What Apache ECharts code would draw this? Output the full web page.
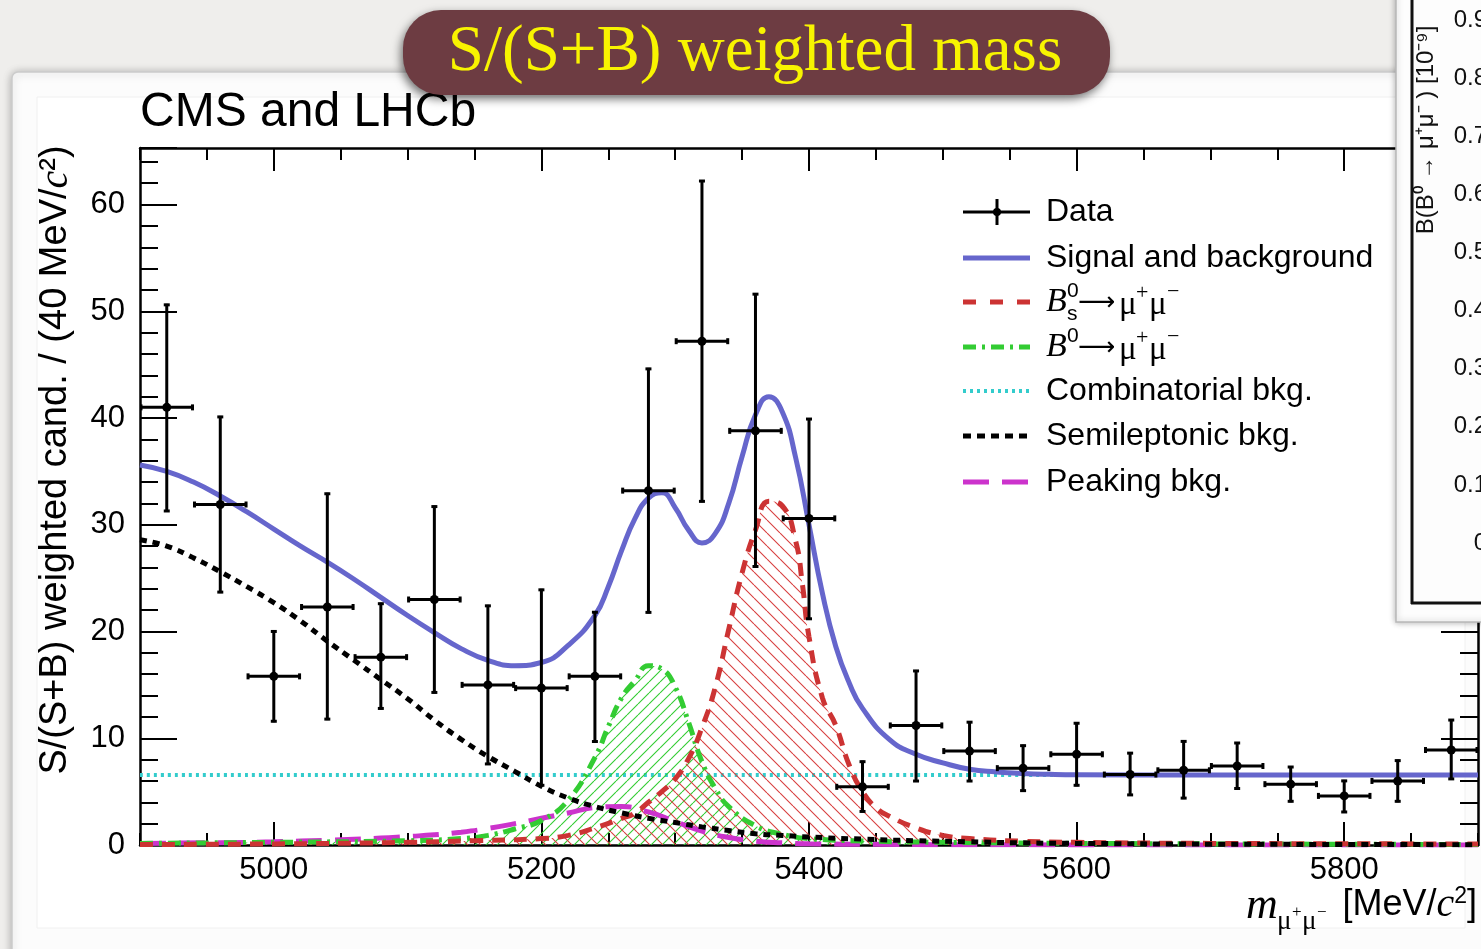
<!DOCTYPE html>
<html><head><meta charset="utf-8">
<script src="https://cdn.jsdelivr.net/npm/echarts@6.0.0/dist/echarts.min.js"></script>
<style>html,body{margin:0;padding:0;background:#efeeec;overflow:hidden}#c{width:1481px;height:949px}</style>
</head><body><div id="c"></div>
<script>
// ---------------- data ----------------
const binCenters = [4920,4960,5000,5040,5080,5120,5160,5200,5240,5280,5320,5360,5400,5440,5480,5520,5560,5600,5640,5680,5720,5760,5800,5840,5880];
const binWidth = 40;
const dataVal = [41.0,31.9,15.8,22.3,17.6,23.0,15.0,14.7,15.8,33.2,47.2,38.8,30.6,5.45,11.2,8.8,7.2,8.5,6.6,7.0,7.4,5.7,4.6,6.0,8.9];
const dataHi  = [50.7,40.2,20.1,33.0,22.7,31.8,22.5,24.0,21.9,44.7,62.3,51.7,40.0,7.9,16.4,11.6,9.4,11.5,8.7,9.8,9.65,7.4,6.1,8.0,11.8];
const dataLo  = [31.2,23.6,11.5,11.7,12.7,14.2,7.5,5.5,9.6,21.7,32.1,26.0,21.1,3.05,5.9,5.9,5.0,5.5,4.6,4.3,5.2,4.0,3.0,4.0,6.1];

const mSB = [4900,4920,4940,4960,4980,5000,5020,5040,5060,5080,5100,5120,5140,5160,5180,5200,5220,5240,5250,5260,5270,5280,5290,5300,5310,5320,5330,5340,5350,5360,5370,5380,5390,5400,5410,5420,5430,5440,5460,5480,5500,5520,5540,5560,5580,5600,5700,5800,5900];
const vSB = [35.6,35.0,34.0,32.7,31.2,29.6,28.0,26.5,24.9,23.2,21.5,19.9,18.4,17.3,16.8,17.1,18.7,21.5,24.2,27.6,30.6,32.5,33.0,31.6,29.5,28.3,29.2,32.0,36.4,40.3,42.0,40.6,36.3,30.0,23.6,18.6,15.2,12.8,9.9,8.5,7.7,7.1,6.85,6.7,6.62,6.58,6.55,6.55,6.55];

const mBs = [4900,5000,5100,5150,5200,5220,5240,5260,5270,5280,5290,5300,5310,5320,5330,5340,5350,5360,5370,5380,5390,5395,5400,5410,5420,5430,5440,5450,5460,5480,5500,5520,5560,5600,5700,5900];
const vBs = [0.05,0.1,0.25,0.4,0.6,0.9,1.6,2.5,3.0,4.0,5.0,6.2,8.1,11.0,14.8,20.2,25.5,29.5,32.2,31.8,28.5,24.5,19.5,13.8,11.2,7.5,5.0,3.5,2.7,1.6,0.9,0.6,0.35,0.25,0.15,0.1];

const mB0 = [4900,5000,5100,5140,5160,5180,5200,5220,5240,5250,5260,5270,5280,5290,5300,5310,5320,5330,5340,5360,5380,5400,5450,5500,5600,5900];
const vB0 = [0.15,0.25,0.4,0.6,0.9,1.5,2.3,4.2,8.2,11.1,13.8,15.4,16.8,16.5,14.8,11.5,7.8,5.3,3.6,1.8,1.0,0.6,0.35,0.25,0.15,0.05];

const mComb = [4900,5900];
const vComb = [6.55,6.55];

const mSemi = [4900,4920,4940,4960,4980,5000,5020,5040,5060,5080,5100,5120,5140,5160,5180,5200,5220,5240,5260,5280,5300,5320,5340,5360,5380,5400,5440,5480,5520,5560,5600,5700,5900];
const vSemi = [28.6,28.0,26.9,25.6,24.2,22.7,21.0,19.1,17.3,15.5,13.7,11.7,9.9,8.3,6.9,5.5,4.4,3.6,3.0,2.5,2.1,1.7,1.35,1.05,0.9,0.75,0.55,0.4,0.3,0.2,0.15,0.08,0.03];

const mPeak = [4900,4960,5000,5040,5080,5100,5120,5140,5160,5180,5200,5220,5240,5260,5280,5300,5320,5340,5360,5380,5400,5450,5500,5600,5900];
const vPeak = [0.15,0.22,0.3,0.45,0.65,0.8,0.95,1.2,1.55,2.0,2.5,3.0,3.5,3.6,3.1,2.2,1.3,0.7,0.35,0.2,0.12,0.06,0.03,0.01,0];

const xTickLabels = [5000,5200,5400,5600,5800];
const yTickLabels = [0,10,20,30,40,50,60];
const legendNames = ['Data','Signal and background','Bs','B0','Combinatorial bkg.','Semileptonic bkg.','Peaking bkg.'];
const panelLabels = [0.9,0.8,0.7,0.6,0.5,0.4,0.3,0.2,0.1,0];

// ---------------- helpers ----------------
const zip = (a,b) => a.map((x,i)=>[x,b[i]]);
function hatch(color, s, dir){
  const c = document.createElement('canvas'); c.width = s; c.height = s;
  const g = c.getContext('2d'); g.strokeStyle = color; g.lineWidth = 1.1;
  g.beginPath();
  for (let k=-1;k<=1;k++){
    if (dir === 'back'){ g.moveTo(k*s,0); g.lineTo(k*s+s,s); }
    else { g.moveTo(k*s,s); g.lineTo(k*s+s,0); }
  }
  g.stroke(); return c;
}
const C = {blue:'#6666cc', red:'#cc3333', green:'#33cc33', cyan:'#33cccc', black:'#000000', mag:'#cc33cc'};
const SANS = 'Liberation Sans';
const SERIF = 'Liberation Serif';

const chart = echarts.init(document.getElementById('c'), null, {renderer:'canvas'});

const lineBase = {type:'line', symbol:'none', smooth:0.5, xAxisIndex:0, yAxisIndex:0, animation:false, silent:true};
const axLine = {show:true, lineStyle:{color:'#000', width:2.5}};
const tickLS = {color:'#000', width:2};
const fmt = v => String(v);

function xAx(pos, main){
  return [
    {type:'value', min:4900, max:5900, interval:50, position:pos, axisLine:axLine,
     axisTick:{show:true, inside:true, length:12, lineStyle:tickLS},
     axisLabel: main ? {show:true, customValues:xTickLabels, formatter:fmt, color:'#000', fontSize:31, fontFamily:SANS, margin:10} : {show:false},
     splitLine:{show:false}},
    {type:'value', min:4900, max:5900, interval:50, position:pos, axisLine:{show:false},
     axisTick:{show:true, inside:true, length:23, customValues:xTickLabels, lineStyle:tickLS},
     axisLabel:{show:false}, splitLine:{show:false}}
  ];
}
function yAx(pos, main){
  return {type:'value', min:0, max:65.3, interval:10, position:pos, axisLine:axLine,
    axisTick:{show:true, inside:true, length:37, lineStyle:tickLS},
    minorTick:{show:true, splitNumber:5, length:18, lineStyle:tickLS},
    axisLabel: main ? {show:true, customValues:yTickLabels, formatter:fmt, color:'#000', fontSize:31, fontFamily:SANS, margin:15} : {show:false},
    splitLine:{show:false}, minorSplitLine:{show:false}};
}

// ---------------- legend & decoration ----------------
const LX0 = 963, LX1 = 1030, TX = 1046;
const LY = [212,258,302,347,391,436,482];
const g = [];
const T = (x, y, text, st) => g.push({type:'text', z:5, silent:true, x, y, style:Object.assign({text, fill:'#000', align:'left', verticalAlign:'middle'}, st)});
// card background
g.push({type:'rect', z:-20, silent:true, shape:{x:12,y:72,width:1520,height:940,r:6},
  style:{fill:'#fcfcfc', stroke:'#cccccc', lineWidth:1.5, shadowBlur:8, shadowColor:'rgba(0,0,0,0.28)', shadowOffsetY:1}});
g.push({type:'rect', z:-19, silent:true, shape:{x:37,y:97,width:1428,height:831},
  style:{fill:'#ffffff', stroke:'#f0f0f0', lineWidth:1}});
// CMS and LHCb
T(140, 113, 'CMS and LHCb', {fontSize:48, fontFamily:SANS});
// y title
g.push({type:'text', z:5, silent:true, x:56, y:460, rotation:Math.PI/2,
  style:{text:'S/(S+B) weighted cand. / (40 MeV/{c|c}²)', fontSize:38, fontFamily:SANS, fill:'#000', align:'center', verticalAlign:'middle',
    rich:{c:{fontStyle:'italic', fontFamily:SERIF, fontSize:40, fill:'#000'}}}});
// x title
T(1246, 906, 'm', {fontStyle:'italic', fontFamily:SERIF, fontSize:44});
T(1277, 922, 'μ', {fontFamily:SERIF, fontSize:27});
T(1292, 913, '+', {fontFamily:SERIF, fontSize:17});
T(1302, 922, 'μ', {fontFamily:SERIF, fontSize:27});
T(1317, 913, '−', {fontFamily:SERIF, fontSize:17});
g.push({type:'text', z:5, silent:true, x:1477, y:905, style:{text:'[MeV/{c|c}{s|2}]', fontFamily:SANS, fontSize:36, fill:'#000', align:'right', verticalAlign:'middle',
  rich:{c:{fontStyle:'italic', fontFamily:SERIF, fontSize:40, fill:'#000'}, s:{fontSize:23, verticalAlign:'top', fill:'#000', padding:[0,0,15,0]}}}});

// legend samples
function lg(y, color, w, dash){
  g.push({type:'line', z:5, silent:true, shape:{x1:LX0,y1:y,x2:LX1,y2:y}, style:{stroke:color, lineWidth:w, lineDash:dash||null}});
}
g.push({type:'line', z:5, silent:true, shape:{x1:LX0,y1:LY[0],x2:LX1,y2:LY[0]}, style:{stroke:'#000', lineWidth:3}});
g.push({type:'line', z:5, silent:true, shape:{x1:997,y1:LY[0]-13,x2:997,y2:LY[0]+13}, style:{stroke:'#000', lineWidth:3}});
g.push({type:'circle', z:5, silent:true, shape:{cx:997,cy:LY[0],r:4}, style:{fill:'#000'}});
lg(LY[1], C.blue, 5);
lg(LY[2], C.red, 5, [13,14]);
lg(LY[3], C.green, 5, [13,6,3,6]);
lg(LY[4], C.cyan, 4, [3,4]);
lg(LY[5], C.black, 5, [8,6]);
lg(LY[6], C.mag, 5, [26,13]);
const tStyle = {fontSize:32, fontFamily:SANS};
T(TX, LY[0], legendNames[0], tStyle);
T(TX, LY[1], legendNames[1], tStyle);
function decay(y, sub){
  T(TX, y, 'B', {fontStyle:'italic', fontFamily:SERIF, fontSize:34});
  T(TX+21, y-11, '0', {fontFamily:SANS, fontSize:21});
  if (sub) T(TX+21, y+12, 's', {fontFamily:SANS, fontSize:21});
  T(TX+32, y+1, '⟶', {fontFamily:'DejaVu Sans', fontSize:26});
  T(TX+73, y+3, 'μ', {fontFamily:SERIF, fontSize:33});
  T(TX+90, y-9, '+', {fontFamily:SERIF, fontSize:22});
  T(TX+103, y+3, 'μ', {fontFamily:SERIF, fontSize:33});
  T(TX+121, y-10, '−', {fontFamily:SERIF, fontSize:22});
}
decay(LY[2], true);
decay(LY[3], false);
T(TX, LY[4], legendNames[4], tStyle);
T(TX, LY[5], legendNames[5], tStyle);
T(TX, LY[6], legendNames[6], tStyle);

// title box
g.push({type:'rect', z:60, silent:true, shape:{x:403,y:10,width:707,height:85,r:38},
  style:{fill:'#6d3c42', shadowBlur:10, shadowColor:'rgba(0,0,0,0.55)', shadowOffsetY:4, shadowOffsetX:-2}});
g.push({type:'text', z:61, silent:true, x:755, y:53, style:{text:'S/(S+B) weighted mass', fontFamily:SERIF, fontSize:65, fill:'#f8f400', align:'center', verticalAlign:'middle'}});

// right partial panel
g.push({type:'rect', z:40, silent:true, shape:{x:1396,y:-10,width:110,height:632},
  style:{fill:'#fdfdfd', stroke:'#b8b8b8', lineWidth:1.5, shadowBlur:6, shadowColor:'rgba(0,0,0,0.3)'}});
g.push({type:'line', z:41, silent:true, shape:{x1:1412,y1:-5,x2:1412,y2:604}, style:{stroke:'#111', lineWidth:3}});
g.push({type:'line', z:41, silent:true, shape:{x1:1411,y1:603,x2:1485,y2:603}, style:{stroke:'#111', lineWidth:3}});
panelLabels.forEach(v=>{
  g.push({type:'text', z:41, silent:true, x:1487, y:543 - v*581, style:{text:String(v), fontFamily:SANS, fontSize:24, fill:'#111', align:'right', verticalAlign:'middle'}});
});
g.push({type:'text', z:41, silent:true, x:1426, y:130, rotation:Math.PI/2,
  style:{text:'B(B⁰ → μ⁺μ⁻ ) [10⁻⁹]', fontFamily:SANS, fontSize:24, fill:'#111', align:'center', verticalAlign:'middle'}});

// ---------------- option ----------------
const option = {
  backgroundColor:'#efeeec',
  animation:false,
  grid:{left:140, top:148, right:3, bottom:104, containLabel:false},
  xAxis:[...xAx('bottom', true), ...xAx('top', false)],
  yAxis:[yAx('left', true), yAx('right', false)],
  series:[
    {...lineBase, name:'Combinatorial bkg.', z:2, data:zip(mComb,vComb), lineStyle:{color:C.cyan, width:4, type:[3,4]}},
    {...lineBase, name:'Peaking bkg.', z:3, data:zip(mPeak,vPeak), lineStyle:{color:C.mag, width:5, type:[26,13]}},
    {...lineBase, name:'B0', z:3, data:zip(mB0,vB0), lineStyle:{color:C.green, width:5, type:[13,6,3,6]},
      areaStyle:{color:{image:hatch(C.green,11,'fwd'), repeat:'repeat'}, opacity:1}},
    {...lineBase, name:'Bs', z:3, data:zip(mBs,vBs), lineStyle:{color:C.red, width:5, type:[13,9]},
      areaStyle:{color:{image:hatch('#d84040',13,'back'), repeat:'repeat'}, opacity:1}},
    {...lineBase, name:'Semileptonic bkg.', z:4, data:zip(mSemi,vSemi), lineStyle:{color:C.black, width:5, type:[7,6]}},
    {...lineBase, name:'Signal and background', z:5, data:zip(mSB,vSB), lineStyle:{color:C.blue, width:5}},
    {type:'custom', name:'Data', z:10, xAxisIndex:0, yAxisIndex:0, silent:true, animation:false, clip:true,
      encode:{x:0, y:1},
      data: binCenters.map((m,i)=>[m, dataVal[i], dataLo[i], dataHi[i]]),
      renderItem:function(params, api){
        const m = api.value(0), v = api.value(1), lo = api.value(2), hi = api.value(3);
        const c = api.coord([m, v]);
        const l = api.coord([m - binWidth/2, v]);
        const r = api.coord([m + binWidth/2, v]);
        const t = api.coord([m, hi]);
        const b = api.coord([m, lo]);
        const st = {stroke:'#000', lineWidth:3};
        const k = 3;
        return {type:'group', children:[
          {type:'line', shape:{x1:l[0],y1:l[1],x2:r[0],y2:r[1]}, style:st},
          {type:'line', shape:{x1:t[0],y1:t[1],x2:b[0],y2:b[1]}, style:st},
          {type:'line', shape:{x1:l[0]+1,y1:l[1]-k,x2:l[0]+1,y2:l[1]+k}, style:st},
          {type:'line', shape:{x1:r[0]-1,y1:r[1]-k,x2:r[0]-1,y2:r[1]+k}, style:st},
          {type:'line', shape:{x1:t[0]-k,y1:t[1]+1,x2:t[0]+k,y2:t[1]+1}, style:st},
          {type:'line', shape:{x1:b[0]-k,y1:b[1]-1,x2:b[0]+k,y2:b[1]-1}, style:st},
          {type:'circle', shape:{cx:c[0],cy:c[1],r:4.5}, style:{fill:'#000'}}
        ]};
      }}
  ],
  graphic:{elements:g}
};
chart.setOption(option);
</script>
</body></html>
